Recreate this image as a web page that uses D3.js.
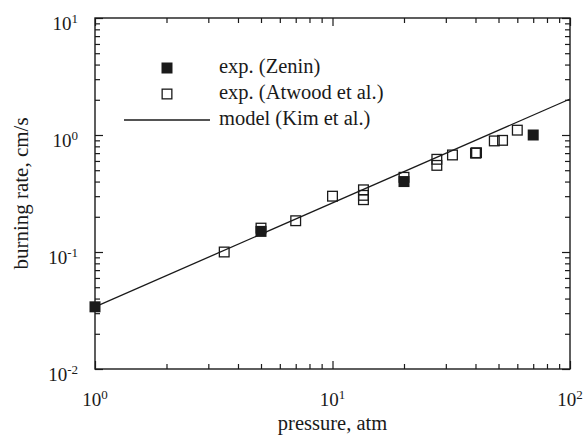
<!DOCTYPE html>
<html>
<head>
<meta charset="utf-8">
<script src="https://cdn.jsdelivr.net/npm/d3@7"></script>
<style>
  html, body { margin: 0; padding: 0; background: #fff; }
  svg { display: block; }
  text { font-family: "Liberation Serif", "Times New Roman", serif; fill: #1a1a1a; }
</style>
</head>
<body>
<svg id="chart" width="585" height="436"></svg>
<script>
// Burning rate vs. pressure (log-log)
const zeninPressure = [1, 5, 20, 70];
const zeninRate     = [0.034, 0.15, 0.40, 1.0];

const atwoodPressure = [3.5, 5, 7, 10, 13.5, 13.5, 13.5, 20, 27.5, 27.5, 32, 40, 40.4, 48, 52, 60];
const atwoodRate     = [0.10, 0.16, 0.185, 0.30, 0.34, 0.305, 0.28, 0.435, 0.62, 0.55, 0.675, 0.70, 0.705, 0.89, 0.90, 1.10];

const modelPressure = [1, 100];
const modelRate     = [0.034, 2.03];

const xDecades = [1, 10, 100];
const yDecades = [0.01, 0.1, 1, 10];
const xTickExp = ["0", "1", "2"];
const yTickExp = ["-2", "-1", "0", "1"];

const legendLabels = ["exp. (Zenin)", "exp. (Atwood et al.)", "model (Kim et al.)"];
const xTitle = "pressure, atm";
const yTitle = "burning rate, cm/s";

const ink = "#1a1a1a";
const svg = d3.select("#chart");
const L = 95, R = 570, T = 18, B = 369;

const x = d3.scaleLog().domain([1, 100]).range([L, R]);
const y = d3.scaleLog().domain([0.01, 10]).range([B, T]);

// minor tick values for each decade
function minors(decades) {
  const out = [];
  for (let i = 0; i < decades.length - 1; i++)
    for (let k = 2; k <= 9; k++) out.push(decades[i] * k);
  return out;
}
const xMinor = minors(xDecades), yMinor = minors(yDecades);

const frame = svg.append("g");
const majorLen = 8, minorLen = 5;

// axes drawn with d3 axis generators, ticks pointing inward
function addAxis(gen, tf, vals, len) {
  const g = frame.append("g").attr("transform", tf)
    .call(gen.tickValues(vals).tickSize(len).tickFormat(""));
  g.select(".domain").remove();
  g.selectAll(".tick line").attr("stroke", ink).attr("stroke-width", 1.2);
}
[[xDecades, majorLen], [xMinor, minorLen]].forEach(([v, len]) => {
  addAxis(d3.axisTop(x), `translate(0,${B})`, v, len);
  addAxis(d3.axisBottom(x), `translate(0,${T})`, v, len);
});
[[yDecades, majorLen], [yMinor, minorLen]].forEach(([v, len]) => {
  addAxis(d3.axisRight(y), `translate(${L},0)`, v, len);
  addAxis(d3.axisLeft(y), `translate(${R},0)`, v, len);
});

frame.append("rect")
  .attr("x", L).attr("y", T).attr("width", R - L).attr("height", B - T)
  .attr("fill", "none").attr("stroke", ink).attr("stroke-width", 1.4);

// tick labels as 10 with superscript exponent
function powerLabel(sel) {
  sel.append("tspan").text("10");
  sel.append("tspan").attr("dy", -7).attr("font-size", 13).text(d => d.exp);
}
svg.append("g").selectAll("text")
  .data(xDecades.map((v, i) => ({ v, exp: xTickExp[i] })))
  .join("text")
  .attr("x", d => x(d.v)).attr("y", B + 37)
  .attr("text-anchor", "middle").attr("font-size", 19)
  .call(powerLabel);

svg.append("g").selectAll("text")
  .data(yDecades.map((v, i) => ({ v, exp: yTickExp[i] })))
  .join("text")
  .attr("x", 78).attr("y", d => y(d.v) + 11.5)
  .attr("text-anchor", "end").attr("font-size", 19)
  .call(powerLabel);

// axis titles
svg.append("text")
  .attr("x", (L + R) / 2).attr("y", 430)
  .attr("text-anchor", "middle").attr("font-size", 20.5)
  .text(xTitle);
svg.append("text")
  .attr("transform", `translate(28,${(T + B) / 2}) rotate(-90)`)
  .attr("text-anchor", "middle").attr("font-size", 21)
  .text(yTitle);

// model line
const line = d3.line().x(d => x(d[0])).y(d => y(d[1]));
svg.append("path")
  .datum(modelPressure.map((p, i) => [p, modelRate[i]]))
  .attr("d", line)
  .attr("fill", "none").attr("stroke", ink).attr("stroke-width", 1.3);

const S = 11;
// open squares first, filled squares on top
svg.append("g").selectAll("rect")
  .data(atwoodPressure.map((p, i) => [p, atwoodRate[i]]))
  .join("rect")
  .attr("x", d => x(d[0]) - (S - 1.3) / 2).attr("y", d => y(d[1]) - (S - 1.3) / 2)
  .attr("width", S - 1.3).attr("height", S - 1.3)
  .attr("fill", "none").attr("stroke", ink).attr("stroke-width", 1.3);

svg.append("g").selectAll("rect")
  .data(zeninPressure.map((p, i) => [p, zeninRate[i]]))
  .join("rect")
  .attr("x", d => x(d[0]) - S / 2).attr("y", d => y(d[1]) - S / 2)
  .attr("width", S).attr("height", S)
  .attr("fill", ink);

// legend
const lg = svg.append("g");
const rowY = [68, 94, 120];
lg.append("rect").attr("x", 167 - S / 2).attr("y", rowY[0] - S / 2)
  .attr("width", S).attr("height", S).attr("fill", ink);
lg.append("rect").attr("x", 167 - (S - 1.3) / 2).attr("y", rowY[1] - (S - 1.3) / 2)
  .attr("width", S - 1.3).attr("height", S - 1.3)
  .attr("fill", "none").attr("stroke", ink).attr("stroke-width", 1.3);
lg.append("line").attr("x1", 124).attr("x2", 210).attr("y1", rowY[2]).attr("y2", rowY[2])
  .attr("stroke", ink).attr("stroke-width", 1.3);
lg.selectAll("text").data(legendLabels).join("text")
  .attr("x", 219).attr("y", (d, i) => rowY[i] + 5)
  .attr("font-size", 20.5)
  .text(d => d);
</script>
</body>
</html>
